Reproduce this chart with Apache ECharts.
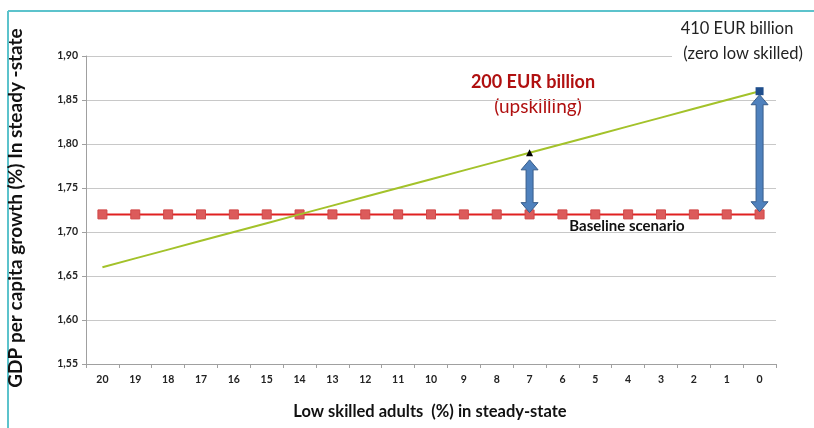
<!DOCTYPE html>
<html>
<head>
<meta charset="utf-8">
<script src="https://cdn.jsdelivr.net/npm/echarts@6/dist/echarts.min.js"></script>
<style>
  html, body { margin: 0; padding: 0; background: #fff; }
  #chart { width: 814px; height: 428px; }
</style>
</head>
<body>
<div id="chart"></div>
<script>
var categories = ['20', '19', '18', '17', '16', '15', '14', '13', '12', '11', '10',
                  '9', '8', '7', '6', '5', '4', '3', '2', '1', '0'];
var baseline = [1.72, 1.72, 1.72, 1.72, 1.72, 1.72, 1.72, 1.72, 1.72, 1.72, 1.72,
                1.72, 1.72, 1.72, 1.72, 1.72, 1.72, 1.72, 1.72, 1.72, 1.72];
var upskilled = [1.66, 1.67, 1.68, 1.69, 1.70, 1.71, 1.72, 1.73, 1.74, 1.75, 1.76,
                 1.77, 1.78, 1.79, 1.80, 1.81, 1.82, 1.83, 1.84, 1.85, 1.86];
// [category, from, to]
var arrows = [['7', 1.722, 1.782], ['0', 1.723, 1.856]];
var yTicks = { min: 1.55, max: 1.90, interval: 0.05 };

var font = 'Lato, "Open Sans", sans-serif';
var chart = echarts.init(document.getElementById('chart'));

var renderArrow = function (params, api) {
    var base = api.coord([api.value(0), api.value(1)]);
    var top = api.coord([api.value(0), api.value(2)]);
    var x = base[0], y0 = top[1], y1 = base[1];
    var hw = 8.5, sw = 3.5, hh = 10;
    var pts = [
        [x, y0], [x + hw, y0 + hh], [x + sw, y0 + hh], [x + sw, y1 - hh],
        [x + hw, y1 - hh], [x, y1], [x - hw, y1 - hh], [x - sw, y1 - hh],
        [x - sw, y0 + hh], [x - hw, y0 + hh]
    ];
    return {
        type: 'polygon',
        shape: { points: pts },
        style: { fill: '#4f81bd', stroke: '#385d8a', lineWidth: 1 }
    };
};

var option = {
    animation: false,
    grid: { left: 86, right: 38, top: 56, bottom: 64 },
    xAxis: {
        type: 'category',
        data: categories,
        boundaryGap: true,
        axisLine: { lineStyle: { color: '#a0a0a0' } },
        axisTick: { show: true, length: 4, interval: 0, lineStyle: { color: '#a0a0a0' } },
        axisLabel: { color: '#222', fontSize: 10.5, fontWeight: 'bold', fontFamily: font, margin: 10 }
    },
    yAxis: {
        type: 'value',
        min: yTicks.min,
        max: yTicks.max,
        interval: yTicks.interval,
        axisLine: { show: true, lineStyle: { color: '#a0a0a0' } },
        axisTick: { show: true, length: 4, lineStyle: { color: '#a0a0a0' } },
        splitLine: { lineStyle: { color: '#c8c8c8' } },
        axisLabel: {
            color: '#222', fontSize: 10.5, fontWeight: 'bold', fontFamily: font, margin: 8,
            formatter: function (v) { return v.toFixed(2).replace('.', ','); }
        }
    },
    series: [{
        name: 'Upskilling',
        type: 'line',
        data: upskilled.map(function (v, i) {
            if (i === 13) return { value: v, symbol: 'triangle', symbolSize: 7, itemStyle: { color: '#000' } };
            if (i === 20) return { value: v, symbol: 'rect', symbolSize: 8, itemStyle: { color: '#1f4e8c' } };
            return v;
        }),
        showSymbol: true,
        symbol: 'none',
        lineStyle: { color: '#a3c22a', width: 2 },
        z: 3
    }, {
        name: 'Baseline scenario',
        type: 'line',
        data: baseline,
        symbol: 'rect',
        symbolSize: 9,
        itemStyle: { color: '#dc5b5b', borderColor: '#d04848', borderWidth: 1 },
        lineStyle: { color: '#e02020', width: 2 },
        z: 2
    }, {
        type: 'custom',
        renderItem: renderArrow,
        data: arrows,
        encode: { x: 0, y: [1, 2] },
        z: 4
    }],
    graphic: [
        { type: 'line', shape: { x1: 8, y1: 11, x2: 814, y2: 11 }, style: { stroke: '#5cc3cc', lineWidth: 2 } },
        { type: 'line', shape: { x1: 8, y1: 11, x2: 8, y2: 428 }, style: { stroke: '#5cc3cc', lineWidth: 2 } },
        {
            type: 'text', x: 16, y: 208, rotation: Math.PI / 2,
            style: {
                text: 'GDP per capita growth (%) In steady -state', fill: '#111',
                font: 'bold 19px ' + font, align: 'center', verticalAlign: 'middle'
            }
        },
        {
            type: 'text', x: 430, y: 412,
            style: {
                text: 'Low skilled adults  (%) in steady-state', fill: '#111',
                font: 'bold 16.5px ' + font, align: 'center', verticalAlign: 'middle'
            }
        },
        {
            type: 'text', x: 533, y: 82,
            style: { text: '200 EUR billion', fill: '#b01010', font: 'bold 18px ' + font, align: 'center', verticalAlign: 'middle' }
        },
        {
            type: 'text', x: 538, y: 107,
            style: { text: '(upskilling)', fill: '#b01010', font: '19px ' + font, align: 'center', verticalAlign: 'middle' }
        },
        {
            type: 'rect', shape: { x: 672, y: 16, width: 140, height: 52 },
            style: { fill: '#fff' }, z: 10
        },
        {
            type: 'text', x: 737, y: 29, z: 11,
            style: { text: '410 EUR billion', fill: '#222', font: '16.5px ' + font, align: 'center', verticalAlign: 'middle' }
        },
        {
            type: 'text', x: 743, y: 54, z: 11,
            style: { text: '(zero low skilled)', fill: '#222', font: '16.5px ' + font, align: 'center', verticalAlign: 'middle' }
        },
        {
            type: 'text', x: 627, y: 226,
            style: { text: 'Baseline scenario', fill: '#111', font: 'bold 15px ' + font, align: 'center', verticalAlign: 'middle' }
        }
    ]
};

chart.setOption(option);
</script>
</body>
</html>
